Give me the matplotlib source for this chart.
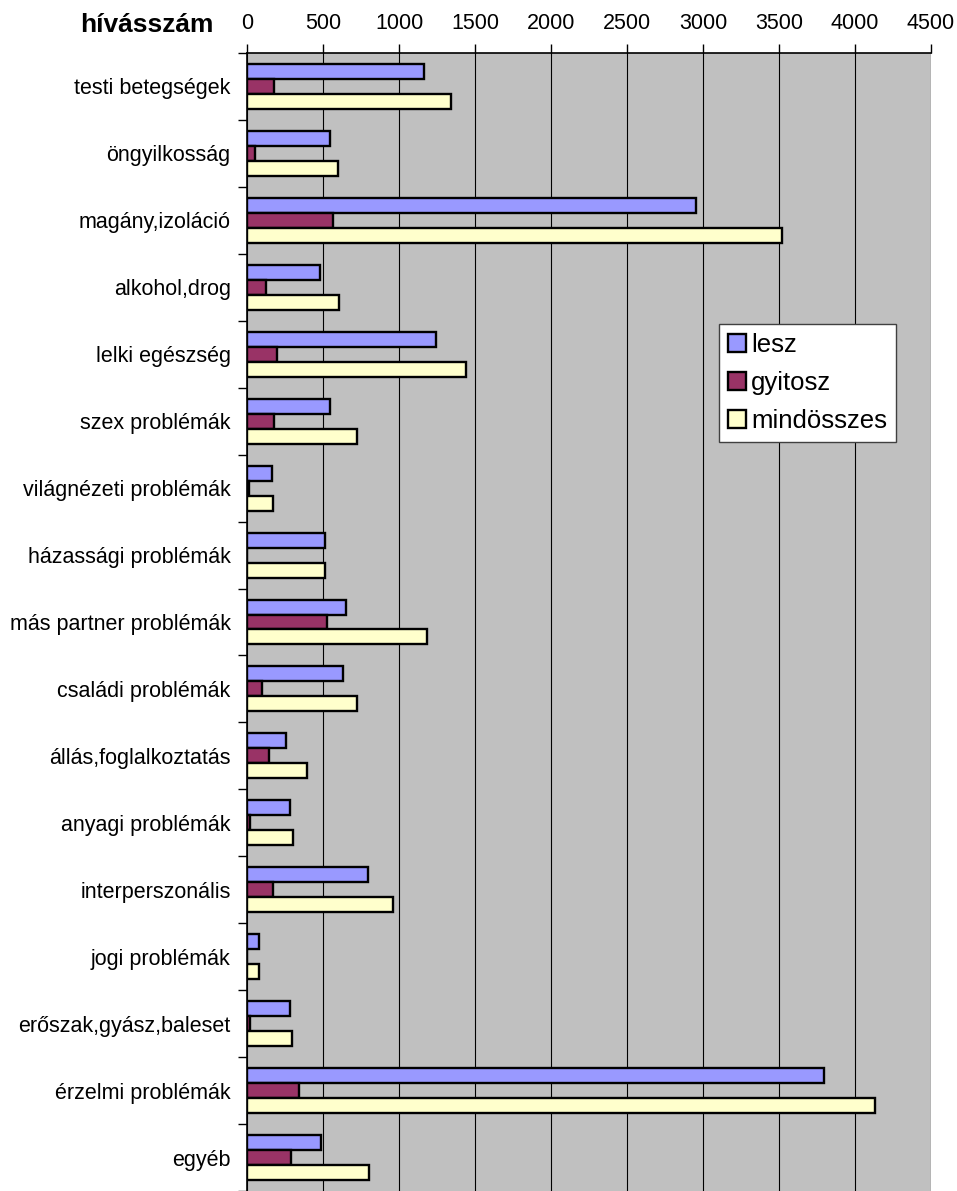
import matplotlib

matplotlib.use('Agg')
import matplotlib.pyplot as plt
import numpy as np
from matplotlib.ticker import FixedLocator, NullFormatter

plt.rcParams['font.family'] = ['Liberation Sans', 'DejaVu Sans']

CATEGORIES = [
    "testi betegségek", "öngyilkosság", "magány,izoláció", "alkohol,drog",
    "lelki egészség", "szex problémák", "világnézeti problémák",
    "házassági problémák", "más partner problémák", "családi problémák",
    "állás,foglalkoztatás", "anyagi problémák", "interperszonális",
    "jogi problémák", "erőszak,gyász,baleset", "érzelmi problémák", "egyéb",
]
LESZ = [1165, 546, 2950, 478, 1241, 542, 162, 511, 647, 627, 255, 283, 794, 75, 278, 3794, 484]
GYITOSZ = [174, 49, 564, 121, 193, 178, 10, 0, 526, 95, 141, 20, 167, 0, 15, 338, 287]
MINDOSSZES = [1340, 595, 3517, 603, 1439, 720, 171, 511, 1182, 722, 395, 303, 961, 75, 296, 4134, 801]
SERIES = ["lesz", "gyitosz", "mindösszes"]
COLORS = ["#9999FF", "#993366", "#FFFFCC"]
XTICKS = list(range(0, 4501, 500))

fig = plt.figure(figsize=(9.57, 11.91), dpi=100)
ax = fig.add_axes([247.3 / 957, 0.0, (931 - 247.3) / 957, (1191 - 53) / 1191])
ax.set_facecolor("#C0C0C0")

y = np.arange(len(CATEGORIES))
h = 0.224
for k, (vals, name, col) in enumerate(zip([LESZ, GYITOSZ, MINDOSSZES], SERIES, COLORS)):
    ax.barh(y + (k - 1) * h, vals, height=h, color=col, edgecolor="black",
            linewidth=1.7, label=name, zorder=3)

ax.set_xlim(0, 4500)
ax.set_ylim(len(CATEGORIES) - 0.5, -0.5)
ax.xaxis.tick_top()
ax.set_xticks(XTICKS)
ax.tick_params(axis="x", direction="out", length=6.5, width=1, pad=7.5,
               labelsize=15.5, top=True, bottom=False)
ax.grid(axis="x", color="black", linewidth=0.8, zorder=1)

ax.set_yticks(y)
ax.set_yticklabels(CATEGORIES)
ax.tick_params(axis="y", which="major", length=0, pad=12, labelsize=15.5)
ax.yaxis.set_minor_locator(FixedLocator(np.arange(-0.5, len(CATEGORIES), 1.0)))
ax.yaxis.set_minor_formatter(NullFormatter())
ax.tick_params(axis="y", which="minor", direction="out", length=6.5, width=1)

for side in ["right", "bottom"]:
    ax.spines[side].set_visible(False)
ax.spines["top"].set_linewidth(1.2)
ax.spines["left"].set_linewidth(1.2)

leg = ax.legend(loc="upper left", bbox_to_anchor=(0.690, 0.762), borderaxespad=0,
                fontsize=18.5, handlelength=0.7, handleheight=0.7,
                handletextpad=0.2, labelspacing=0.55, fancybox=False,
                framealpha=1, edgecolor="#404040", borderpad=0.35)
leg.get_frame().set_linewidth(1)

fig.text(80 / 957, 1 - 32.3 / 1191, "hívásszám", fontsize=19, fontweight="bold",
         va="baseline", ha="left")

fig.savefig("out.png", dpi=100)
